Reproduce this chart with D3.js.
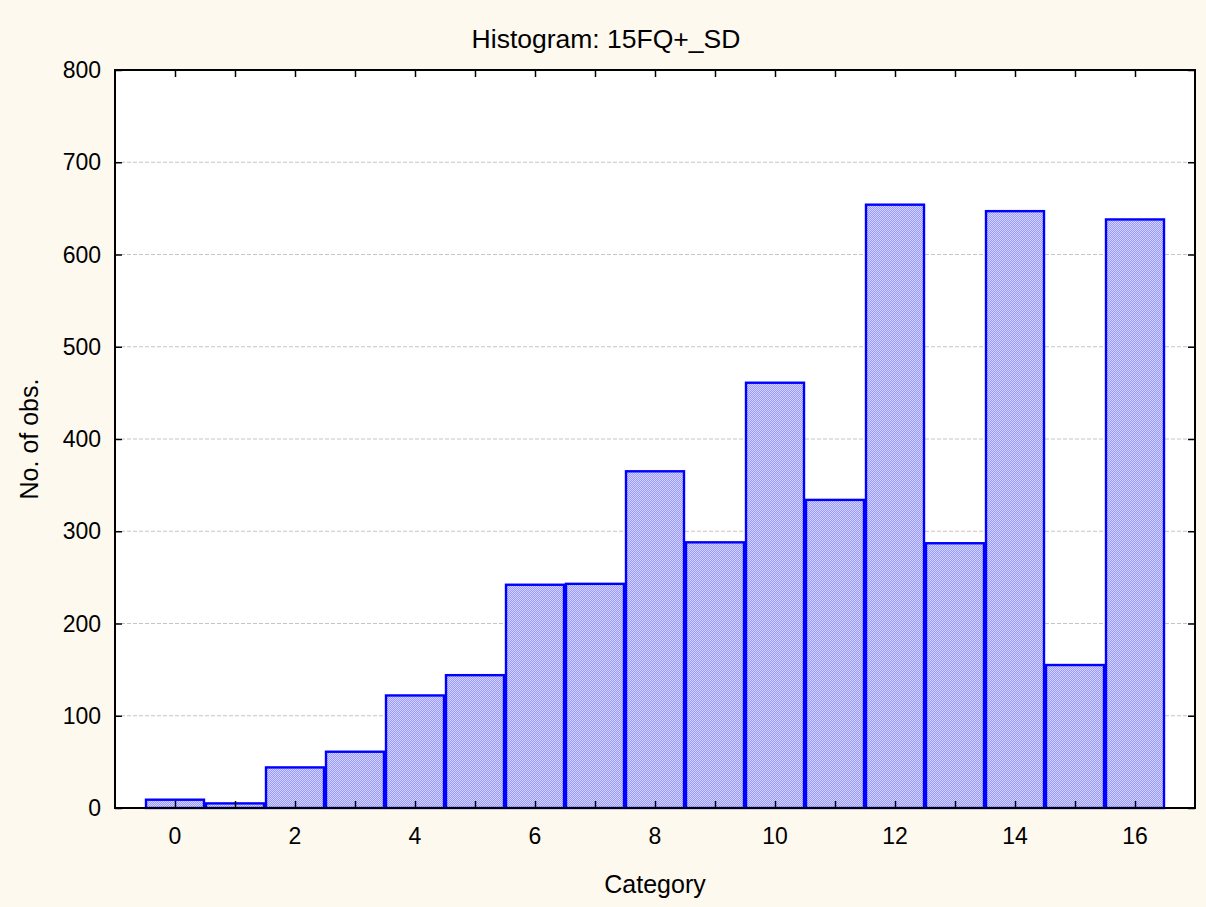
<!DOCTYPE html>
<html>
<head>
<meta charset="utf-8">
<script src="https://cdn.jsdelivr.net/npm/d3@7"></script>
<style>
  body { margin: 0; background: #fef9ef; }
  svg { display: block; font-family: "Liberation Sans", Arial, sans-serif; }
</style>
</head>
<body>
<div id="chart"></div>
<script>
// histogram counts per category
const categories = [0, 1, 2, 3, 4, 5, 6, 7, 8, 9, 10, 11, 12, 13, 14, 15, 16];
const counts = [9, 5, 44, 61, 122, 144, 242, 243, 365, 288, 461, 334, 654, 287, 647, 155, 638];
const xTicks = [0, 2, 4, 6, 8, 10, 12, 14, 16];
const yTicks = [0, 100, 200, 300, 400, 500, 600, 700, 800];

const totalW = 1206, totalH = 907;
const margin = { top: 70, right: 11, bottom: 99, left: 115 };
const W = totalW - margin.left - margin.right, H = totalH - margin.top - margin.bottom;
const FS = "23px";

const root = d3.select("#chart").append("svg").attr("width", totalW).attr("height", totalH);
root.append("rect").attr("width", totalW).attr("height", totalH).attr("fill", "#fef9ef");

// checker fill like the original (low contrast so it reads as light blue)
const defs = root.append("defs");
const pat = defs.append("pattern").attr("id", "checker").attr("patternUnits", "userSpaceOnUse")
    .attr("width", 2).attr("height", 2);
pat.append("rect").attr("width", 2).attr("height", 2).attr("fill", "#d6d6ff");
pat.append("rect").attr("width", 1).attr("height", 1).attr("fill", "#9696ff");
pat.append("rect").attr("x", 1).attr("y", 1).attr("width", 1).attr("height", 1).attr("fill", "#9696ff");

const svg = root.append("g").attr("transform", `translate(${margin.left},${margin.top})`);

const x = d3.scaleLinear().domain([-1, 17]).range([0, W]);
const y = d3.scaleLinear().domain([0, 800]).range([H, 0]);

svg.append("rect").attr("width", W).attr("height", H).attr("fill", "#fff");

// dashed grid
svg.append("g").selectAll("line").data(yTicks.slice(1, -1)).enter().append("line")
    .attr("x1", 0).attr("x2", W).attr("y1", d => y(d)).attr("y2", d => y(d))
    .attr("stroke", "#c4c4c4").attr("stroke-width", 1).attr("stroke-dasharray", "4,2");

// bars, stroke kept inside each bin so neighbours show a double edge
svg.append("g").selectAll("rect").data(categories).enter().append("rect")
    .attr("x", d => x(d - 0.5) + 1).attr("width", x(1) - x(0) - 2)
    .attr("y", (d, i) => y(counts[i])).attr("height", (d, i) => H - y(counts[i]))
    .attr("fill", "url(#checker)").attr("stroke", "#0000ff").attr("stroke-width", 2.4);

// axes with inward ticks on all four sides
const unitTicks = d3.range(0, 17);
svg.append("g").attr("transform", `translate(0,${H})`)
    .call(d3.axisBottom(x).tickValues(unitTicks).tickSizeInner(-7).tickSizeOuter(0).tickFormat(""))
    .call(g => g.select(".domain").remove());
svg.append("g")
    .call(d3.axisTop(x).tickValues(unitTicks).tickSizeInner(-7).tickSizeOuter(0).tickFormat(""))
    .call(g => g.select(".domain").remove());
svg.append("g")
    .call(d3.axisLeft(y).tickValues(yTicks).tickSizeInner(-7).tickSizeOuter(0).tickFormat(""))
    .call(g => g.select(".domain").remove());
svg.append("g").attr("transform", `translate(${W},0)`)
    .call(d3.axisRight(y).tickValues(yTicks).tickSizeInner(-7).tickSizeOuter(0).tickFormat(""))
    .call(g => g.select(".domain").remove());
svg.selectAll(".tick line").attr("stroke", "#000").attr("stroke-width", 1.5);

svg.append("rect").attr("width", W).attr("height", H)
    .attr("fill", "none").attr("stroke", "#000").attr("stroke-width", 2);

// tick labels
svg.append("g").selectAll("text").data(xTicks).enter().append("text")
    .attr("x", d => x(d)).attr("y", H + 36).attr("text-anchor", "middle")
    .style("font-size", FS).text(d => d);
svg.append("g").selectAll("text").data(yTicks).enter().append("text")
    .attr("x", -14).attr("y", d => y(d) + 8).attr("text-anchor", "end")
    .style("font-size", FS).text(d => d);

// titles
root.append("text").attr("x", totalW / 2 + 3).attr("y", 48).attr("text-anchor", "middle")
    .style("font-size", "26.5px").text("Histogram: 15FQ+_SD");
svg.append("text").attr("x", W / 2).attr("y", H + 85).attr("text-anchor", "middle")
    .style("font-size", "25px").text("Category");
svg.append("text").attr("transform", `translate(${-77},${H / 2}) rotate(-90)`)
    .attr("text-anchor", "middle").style("font-size", "25px").text("No. of obs.");
</script>
</body>
</html>
